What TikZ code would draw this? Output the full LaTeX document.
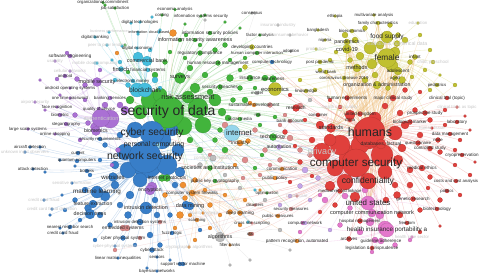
\documentclass[tikz,border=0pt]{standalone}
\usepackage{fontspec}
\setmainfont{Liberation Sans}
\usepackage{xcolor}
\definecolor{vred}{RGB}{224,64,60}
\definecolor{vgreen}{RGB}{66,180,60}
\definecolor{vblue}{RGB}{56,126,200}
\definecolor{vyellow}{RGB}{192,192,48}
\definecolor{vpurple}{RGB}{170,112,212}
\definecolor{vcyan}{RGB}{70,190,222}
\definecolor{vlcyan}{RGB}{150,214,236}
\definecolor{vorange}{RGB}{240,144,48}
\definecolor{vpink}{RGB}{228,120,204}
\definecolor{vsalmon}{RGB}{222,140,140}
\definecolor{vlav}{RGB}{196,164,232}
\definecolor{vgray}{RGB}{188,188,188}
\definecolor{vamber}{RGB}{236,170,80}
\definecolor{vbrown}{RGB}{176,112,88}
\pgfdeclarelayer{links}
\pgfdeclarelayer{dots}
\pgfsetlayers{links,dots,main}
\newcommand\lstgreen{150/100/9,198/108/10,203/125/8,183/126/9,140/112/7,160/95/7,215/100/6,170/127/7,195/88/5,130/100/4,222/112/4,155/75/3,165/62/2.5,190/68/3,205/75/3,230/78/3.5,265/78/3,240/88/2.5,215/50/2.5,230/60/2,245/58/2,205/15/1.5,185/24/1.5,225/22/1.5,240/28/1.5,200/45/2,225/45/2.5,180/40/2,170/52/2,245/100/3,228/118/3,262/155/2,255/168/2,215/140/2.5,225/150/3,200/150/3,275/117/2,128/72/2,260/125/2,125/45/1.5,105/5/1.5,186/35/2,162/178/3.5,210/92/3,233/100/2.5,185/58/2,150/62/1.5,240/70/2,255/88/2,220/130/2.5,190/140/3}
\newcommand\lstblue{147/162/16,167/165/10,128/170/8,162/140/9,125/152/8,178/150/6,140/180/7,115/185/4,105/196/5,88/208/3.5,85/190/3,120/205/3,128/215/3.5,140/222/3,150/235/3,160/245/2.5,135/245/2,100/215/3,110/225/2.5,75/200/2.5,65/210/2,80/220/2,60/228/1.5,50/215/1.5,95/240/2,180/264/2,170/260/1.5,147/268/1.5,100/160/2,90/175/2,75/166/1.5,60/160/1.5,45/172/1.5,120/135/3,105/145/2.5,186/205/4,200/230/2,170/215/2.5,157/215/3,135/130/8,175/185/3,130/195/4,115/165/4,40/147/1.5,62/195/1.5,155/200/3,172/130/6,180/172/5}
\newcommand\lstred{368/134/15,352/158/13,340/145/10,382/155/11,395/133/7,335/168/8,345/182/8,385/172/7,330/140/6,350/115/5,398/160/5,330/186/5,402/148/4,355/197/5,320/125/4,312/140/3,415/110/2.5,430/120/2.5,445/125/2,460/140/2,420/135/3,440/152/2.5,455/165/2,470/175/2,430/177/2.5,410/185/3,440/200/2.5,460/195/2,420/210/2.5,400/215/3,397/195/3.5,386/200/3,335/205/2.5,320/212/2,405/90/2.5,420/92/2,385/106/3,400/113/3,330/100/2,290/95/2,305/120/2,285/132/2.5,295/146/2,300/162/2.5,312/176/2,290/182/2,445/110/2,465/116/1.5,470/130/1.5,455/150/2,475/162/1.5,440/226/1.5,420/232/2,375/118/6,360/145/9,405/125/4,410/170/3,428/188/2,395/185/3}
\newcommand\lstyellow{370/48/6,395/52/5,392/66/6,372/64/5,360/56/4,355/40/3,345/35/3,365/28/2.5,390/25/2.5,405/40/3,410/62/2.5,402/80/3.5,412/77/2,425/70/2,430/50/2,420/35/2,330/60/2,336/52/2,320/70/2,365/80/3,375/75/3,388/88/2.5,430/90/2,455/85/2,440/75/1.5,245/67/2.5,300/80/2,315/90/2,380/45/4,398/35/2.5,350/60/2.5}
\newcommand\lstpink{380/215/4,385/228/7,375/240/3,395/245/2.5,360/232/3,340/225/2.5,325/200/3,345/196/3,365/190/3,350/208/2.5,410/240/2,372/252/2,320/195/2,303/223/2,300/232/2,370/222/4}
\newcommand\lstpurple{110/119/9,95/127/4.5,77/79/2.5,57/79/2,67/53/2,120/105/3,85/100/2,75/115/2.5,88/123/2.5,60/95/1.5,45/110/1.5,80/140/2,118/150/2.5,112/165/2,152/187/5,100/70/2,85/85/2.5,40/80/1.5,125/110/4,105/105/3}
\newcommand\lstcyan{137/90/7,138/57/5,152/17/1.5,131/23/1.5,138/34/1.5,122/46/1.5,97/63/1.5,115/80/2,128/85/2.5,150/50/2,112/60/1.5,160/30/1.5,255/190/1.5,248/222/1.5,120/62/2,155/80/3,160/88/2}
\newcommand\lstorange{173/33/3.5,117/53/2,183/185/3,195/180/2.5,205/190/2,185/198/2.5,180/215/3.5,210/205/2.5,220/215/2,230/212/2.5,245/200/2,175/228/2,195/240/2,250/103/2,248/141/2.5,235/165/2,260/190/1.5,165/195/2.5,190/215/2,225/195/2,240/225/2,210/228/2}
\newcommand\lstsalmon{225/125/3,245/160/3,265/150/2.5,280/160/2.5,270/105/2.5,290/138/3,300/150/2.5,255/130/2.5,280/125/2,310/155/2.5,127/228/3,140/238/2,115/250/2,210/155/2,243/178/2,260/175/2,300/106/3,252/234/2,230/140/2,270/165/2,285/115/2,160/222/2}
\newcommand\lstlav{305/170/3,300/186/2.5,290/196/2,318/178/2.5,280/205/2,330/230/2,310/200/2}
\newcommand\lstgray{213/158/3,200/165/2.5,225/175/2,240/188/2,265/200/2,230/265/1.5,250/260/1.5,255/13/1.5,205/20/1.5,310/100/2,280/230/2,290/250/1.5}

\begin{document}
\begin{tikzpicture}[x=1pt,y=-1pt,
      lb/.style={font=\fontsize{#1}{#1}\selectfont,text=black!85,inner sep=0pt},
      fd/.style={font=\fontsize{#1}{#1}\selectfont,text=black!22,inner sep=0pt},
      bub/.style={fill=#1,draw=#1!75!black,line width=0.15pt},
      lnk/.style={draw=#1,line width=0.3pt,draw opacity=0.3}
    ]
      \useasboundingbox (0,0) rectangle (480,274);
      \node[lb=14] (sod) at (168,112) {security of data};
      \node[lb=7.4] (risk) at (188,97) {risk assessment};
      \node[lb=5.8] (surv) at (180,78) {surveys};
      \node[lb=5.4] (isaw) at (195,40) {information security awareness};
      \node[lb=4.6] (regc) at (200,53) {regulatory compliance};
      \node[lb=4.6] (hrm) at (218,63) {human resource management};
      \node[lb=4.6] (isp) at (210,33) {information security policies};
      \node[lb=4.3] (iss) at (201,16) {information systems security};
      \node[lb=4.3] (cost) at (162,15) {costing};
      \node[lb=4.3] (econa) at (175,9.5) {economic analysis};
      \node[lb=4.3] (orgc) at (103,2.5) {organizational commitment};
      \node[lb=4.3] (jobs) at (115,8) {job satisfaction};
      \node[lb=4.3] (cons) at (252,13) {consensus};
      \node[lb=4.6] (secb) at (220,87) {security breaches};
      \node[lb=4.8] (ins) at (250,78) {insurance};
      \node[lb=4.8] (awa) at (273,79) {awareness};
      \node[lb=4.3] (model) at (257,93) {model};
      \node[lb=4.6] (sdev) at (254,105) {sustainable development};
      \node[lb=4.3] (rsk) at (258,115) {risk};
      \node[lb=4.3] (smed) at (240,119) {social media};
      \node[lb=5.2] (tech) at (273,137) {technology};
      \node[lb=4.2] (hci) at (257,53) {human computer interaction};
      \node[lb=4.3] (fact) at (260,35) {factor analysis};
      \node[lb=5] (intp) at (167,178) {internet protocols};
      \node[lb=5.3] (soc) at (210,168) {societies and institutions};
      \node[lb=4.6] (pkc) at (215,181) {public key cryptography};
      \node[lb=6.7] (blk) at (145,90) {blockchain};
      \node[lb=5.3] (cbank) at (147,61) {commercial bank};
      \node[lb=5.6] (fint) at (121,69) {fintech};
      \node[lb=4.6] (fsys) at (148,70) {financial systems};
      \node[lb=4.3] (emon) at (133,81) {electronic money};
      \node[lb=4.3] (dtech) at (140,22) {digital technologies};
      \node[lb=4.3] (dbank) at (95,37) {digital banking};
      \node[lb=4.3] (decon) at (137,48) {digital economy};
      \node[lb=3.8] (cloud) at (159,32) {cloud based};
      \node[lb=3.8] (info) at (138,32) {information};
      \node[fd=3.8] (bperf) at (109,32) {business performance};
      \node[fd=4.3] (p2p) at (107,45) {peer to peer lending};
      \node[lb=7.7] (inet) at (239,133) {internet};
      \node[fd=4.3] (mcc) at (95,63) {mobile cloud computing};
      \node[lb=5.5] (mobs) at (97,82) {mobile security};
      \node[lb=4.6] (soft) at (70,56) {software engineering};
      \node[fd=4.3] (usab) at (55,61) {usability};
      \node[fd=4.3] (cell) at (70,71) {cellular networks};
      \node[lb=4.3] (andr) at (65,76) {android};
      \node[lb=4.3] (aos) at (70,88) {android operating systems};
      \node[lb=4.3] (otp) at (70,98) {one time password};
      \node[lb=4.3] (bsrv) at (110,98) {banking services};
      \node[fd=4.3] (airp) at (35,102) {airport security};
      \node[lb=4.3] (face) at (57,107) {face recognition};
      \node[lb=4.3] (biom1) at (60,115) {biometric};
      \node[lb=4.3] (qos) at (99,109) {quality of service};
      \node[fd=5.6] (auth) at (101,118) {authentication};
      \node[lb=4.3] (steg) at (66,124) {steganography};
      \node[lb=4.3] (lss) at (28,129) {large scale systems};
      \node[lb=4.3] (shop) at (55,134) {online shopping};
      \node[lb=5.2] (biom) at (96,131) {biometrics};
      \node[lb=5] (enc) at (150,190) {encryption};
      \node[lb=10.2] (cyber) at (152,133) {cyber security};
      \node[lb=10.5] (netsec) at (145,157) {network security};
      \node[lb=6.9] (pcomp) at (154,145) {personal computing};
      \node[lb=6] (web) at (113,177) {websites};
      \node[lb=6.3] (ml) at (97,192) {machine learning};
      \node[lb=5] (feat) at (93,204) {feature extraction};
      \node[lb=5.3] (dtree) at (90,214) {decision trees};
      \node[lb=5.4] (ids) at (146,208) {intrusion detection};
      \node[lb=5.5] (dmin) at (190,206) {data mining};
      \node[lb=4.3] (secr) at (100,139) {security requirements};
      \node[lb=4.3] (curr) at (78,153) {current};
      \node[lb=4.3] (aird) at (30,147) {aircraft detection};
      \node[fd=4.3] (uio) at (25,152) {unknown input observers};
      \node[lb=4.3] (qcomp) at (77,161) {quantum computers};
      \node[lb=4.3] (atk) at (33,169) {attack detection};
      \node[lb=4.3] (botn) at (87,171) {botnets};
      \node[fd=4.3] (sinf) at (72,183) {sensitive information};
      \node[fd=4.3] (ccf) at (44,200) {credit card fraud};
      \node[fd=4.3] (ccfd) at (52,209) {credit card fraud detection};
      \node[lb=4.3] (nns) at (70,227) {nearest neighbor search};
      \node[lb=4.3] (ccf2) at (63,233) {credit card fraud};
      \node[lb=4.3] (idss) at (140,222) {intrusion detection systems};
      \node[lb=4.8] (emb) at (123,228) {embedded systems};
      \node[lb=4.5] (cps) at (123,238) {cyber physical system};
      \node[fd=4.3] (cps2) at (115,246) {cyber-physical systems};
      \node[lb=4.3] (lmi) at (118,258) {linear matrix inequalities};
      \node[lb=4.3] (bayn) at (157,271) {bayesian networks};
      \node[lb=4.3] (svm) at (183,264) {support vector machine};
      \node[lb=4.3] (sens) at (157,257) {sensors};
      \node[lb=4.3] (fuzz) at (172,233) {fuzzy logic};
      \node[fd=4.3] (cryal) at (189,247) {cryptographic algorithms};
      \node[lb=4.5] (cyat) at (152,250) {cyberattack};
      \node[lb=4.5] (csf) at (192,193) {computer system firewalls};
      \node[fd=4.3] (secsys) at (203,213) {security systems};
      \node[lb=4.3] (scan) at (197,220) {scanning};
      \node[lb=4.6] (deep) at (240,213) {deep learning};
      \node[lb=4.3] (xss) at (252,223) {cross site scripting};
      \node[lb=4.3] (ssx) at (250,234) {xss};
      \node[lb=5.3] (algo) at (220,237) {algorithms};
      \node[lb=4.3] (fbank) at (230,245) {filter banks};
      \node[lb=4.3] (opt) at (267,193) {optimization};
      \node[lb=4.3] (dis) at (255,205) {disasters};
      \node[lb=4.3] (secm) at (291,209) {security measures};
      \node[lb=4.3] (pubm) at (278,216) {public measures};
      \node[lb=4.3] (cnet) at (305,223) {computer network};
      \node[fd=4.3] (hcare) at (297,196) {health care};
      \node[lb=4.6] (prec) at (297,241) {pattern recognition, automated};
      \node[lb=4.6] (commun) at (282,169) {communication};
      \node[lb=4.6] (ppol) at (275,178) {public policy};
      \node[lb=5] (auto) at (279,147) {automation};
      \node[lb=5] (indu) at (240,143) {industry};
      \node[lb=5] (resr) at (296,108) {research};
      \node[lb=4.5] (bacc) at (290,121) {bank account};
      \node[fd=4.5] (cnets) at (213,158) {computer networks};
      \node[lb=4.3] (ctech) at (272,62) {computer technology};
      \node[lb=4.5] (know) at (306,91) {knowledge};
      \node[lb=4.5] (devc) at (252,47) {developing countries};
      \node[lb=4.3] (adop) at (291,51) {adoption};
      \node[fd=4.3] (insi) at (278,25) {insurance industry};
      \node[fd=4.3] (cbeh) at (290,35) {consumer behavior};
      \node[lb=5.8] (econ) at (275,89) {economics};
      \node[lb=6.5] (food) at (387,37) {food supply};
      \node[lb=8.3] (fem) at (387,58) {female};
      \node[lb=5.8] (covid) at (347,49) {covid-19};
      \node[lb=5.2] (pand) at (347,42) {pandemics};
      \node[fd=5.2] (stat) at (397,43.5) {statistics \& numerical data};
      \node[lb=5.5] (meth) at (357,68) {methods};
      \node[lb=5.2] (org) at (377,85) {organization \& administration};
      \node[lb=4.6] (adol) at (398,71) {adolescent};
      \node[lb=4.3] (aged) at (395,78) {aged};
      \node[lb=4.5] (infa) at (415,57) {infant};
      \node[fd=4.5] (child) at (433,62) {child, preschool};
      \node[lb=4.3] (ped) at (437,85) {pediatrics};
      \node[lb=4.3] (eth) at (335,16) {ethiopia};
      \node[lb=4.3] (multv) at (374,15) {multivariate analysis};
      \node[lb=4.3] (famc) at (378,23) {family characteristics};
      \node[fd=4.3] (edu) at (418,23) {education};
      \node[lb=4.3] (bngl) at (318,30) {bangladesh};
      \node[lb=4.3] (bioe) at (352,31) {bioeconomics};
      \node[lb=4.3] (nig) at (325,40) {nigeria};
      \node[lb=4.3] (ppand) at (320,62) {post pandemic};
      \node[lb=4.3] (wb) at (326,72) {world bank};
      \node[lb=4.3] (cvd) at (344,78) {coronavirus disease 2019};
      \node[fd=4.3] (prod) at (316,49) {production};
      \node[lb=12.4] (hum) at (370,132) {humans};
      \node[lb=11.7] (csec) at (356,163) {computer security};
      \node[lb=8.6] (conf) at (368,181) {confidentiality};
      \node[fd=9] (priv) at (322,152) {privacy};
      \node[lb=5.5] (std) at (331,128) {standards};
      \node[lb=5] (dbf) at (381,144) {databases, factual};
      \node[lb=4.6] (hexp) at (347,98) {human experiments};
      \node[lb=4.6] (mcs) at (393,98) {major clinical study};
      \node[lb=4.5] (ctop) at (447,98) {clinical trial (topic)};
      \node[fd=4.3] (hcq) at (340,107) {health care quality};
      \node[fd=4.3] (ctas) at (457,107) {clinical trials as topic};
      \node[lb=4.3] (consm) at (318,115) {consumer};
      \node[lb=4.6] (uk) at (360,114) {united kingdom};
      \node[lb=4.3] (china) at (350,120) {china};
      \node[lb=4.5] (pros) at (425,113) {prospective study};
      \node[lb=4.5] (bmark) at (410,122) {biological marker};
      \node[lb=4.5] (lab) at (457,122) {laboratory};
      \node[fd=4.3] (htis) at (432,128) {human tissue};
      \node[lb=4.5] (dman) at (450,134) {data management};
      \node[lb=4.3] (male) at (438,140) {male};
      \node[lb=4.3] (quest) at (418,143) {questionnaire};
      \node[lb=4.5] (ctrl) at (430,148.5) {controlled study};
      \node[lb=4.5] (cryo) at (462,155) {cryopreservation};
      \node[lb=4.6] (meth2) at (422,168) {medical ethics};
      \node[lb=4.3] (costs) at (456,181) {costs and cost analysis};
      \node[lb=4.3] (mrl) at (340,191) {medical record linkage};
      \node[lb=4.3] (pol) at (447,191) {politics};
      \node[lb=4.5] (gres) at (413,199) {genetic research};
      \node[lb=7.9] (ust) at (368,203) {united states};
      \node[lb=4.5] (btech) at (437,209) {biotechnology};
      \node[lb=5.6] (ccn) at (372,213) {computer communication network};
      \node[lb=4.3] (hman) at (360,221) {hospital management};
      \node[lb=4.3] (free) at (407,223) {freedom};
      \node[lb=6.3] (hip) at (387,230) {health insurance portability a};
      \node[lb=4.5] (arch) at (349,239) {archives};
      \node[lb=4.5] (guide) at (381,241) {guideline adherence};
      \node[fd=4.3] (hcsec) at (412,237) {health care sector};
      \node[lb=4.5] (legis) at (372,248) {legislation \& jurisprudence};

      \foreach \x/\y/\r [count=\i] in \lstgreen \coordinate (g\i) at (\x,\y);
      \foreach \x/\y/\r [count=\i] in \lstblue \coordinate (b\i) at (\x,\y);
      \foreach \x/\y/\r [count=\i] in \lstred \coordinate (r\i) at (\x,\y);
      \foreach \x/\y/\r [count=\i] in \lstyellow \coordinate (y\i) at (\x,\y);
      \foreach \x/\y/\r [count=\i] in \lstpink \coordinate (p\i) at (\x,\y);
      \foreach \x/\y/\r [count=\i] in \lstpurple \coordinate (u\i) at (\x,\y);
      \foreach \x/\y/\r [count=\i] in \lstcyan \coordinate (c\i) at (\x,\y);
      \foreach \x/\y/\r [count=\i] in \lstorange \coordinate (o\i) at (\x,\y);
      \foreach \x/\y/\r [count=\i] in \lstsalmon \coordinate (s\i) at (\x,\y);
      \foreach \x/\y/\r [count=\i] in \lstlav \coordinate (v\i) at (\x,\y);
      \foreach \x/\y/\r [count=\i] in \lstgray \coordinate (k\i) at (\x,\y);

      \begin{pgfonlayer}{dots}
        \foreach \x/\y/\r [count=\i] in \lstgreen \fill[bub=vgreen] (g\i) circle (\r);
        \foreach \x/\y/\r [count=\i] in \lstblue \fill[bub=vblue] (b\i) circle (\r);
        \foreach \x/\y/\r [count=\i] in \lstred \fill[bub=vred] (r\i) circle (\r);
        \foreach \x/\y/\r [count=\i] in \lstyellow \fill[bub=vyellow] (y\i) circle (\r);
        \foreach \x/\y/\r [count=\i] in \lstpink \fill[bub=vpink] (p\i) circle (\r);
        \foreach \x/\y/\r [count=\i] in \lstpurple \fill[bub=vpurple] (u\i) circle (\r);
        \foreach \x/\y/\r [count=\i] in \lstcyan \fill[bub=vcyan] (c\i) circle (\r);
        \foreach \x/\y/\r [count=\i] in \lstorange \fill[bub=vorange] (o\i) circle (\r);
        \foreach \x/\y/\r [count=\i] in \lstsalmon \fill[bub=vsalmon] (s\i) circle (\r);
        \foreach \x/\y/\r [count=\i] in \lstlav \fill[bub=vlav] (v\i) circle (\r);
        \foreach \x/\y/\r [count=\i] in \lstgray \fill[bub=vgray] (k\i) circle (\r);
        \foreach \n/\r in {sod/16,risk/6,surv/5.5,isaw/2,regc/2.5,hrm/2.5,isp/2,iss/1.5,cost/1.5,econa/1.5,jobs/1.5,orgc/1.5,secb/2.5,ins/3,awa/3.5,tech/3.5,intp/3.5,soc/2.5,pkc/2,smed/2,rsk/2,hci/2,fact/1.5,opt/1.5}
          \fill[bub=vgreen] (\n.center) circle (\r);
        \foreach \n/\r in {blk/7,cbank/5,fint/2.5,fsys/2,emon/2,dtech/1.5,dbank/1.5,decon/1.5,cloud/1.5,p2p/1.5,bperf/1.5,info/1.5}
          \fill[bub=vcyan] (\n.center) circle (\r);
        \foreach \n/\r in {pcomp/6,mcc/1.5}
          \fill[bub=vlcyan] (\n.center) circle (\r);
        \fill[bub=vlcyan] (inet.center) ++(-7,0) circle (8);
        \foreach \n/\r in {mobs/4.5,soft/2,usab/1.5,cell/1.5,andr/2,aos/1.5,otp/1.5,bsrv/2,airp/1.5,face/1.5,biom1/2,qos/2,auth/9,steg/2,lss/1.5,shop/1.5,biom/4.5,enc/5}
          \fill[bub=vpurple] (\n.center) circle (\r);
        \foreach \n/\r in {cyber/12,netsec/16,web/4.5,ml/6,feat/4,dtree/5,ids/6,dmin/4,secr/2,curr/2,aird/1.5,uio/1.5,qcomp/2,atk/1.5,botn/2,sinf/1.5,ccf/1.5,ccfd/1.5,nns/2,ccf2/1.5,idss/2.5,cps/2.5,cps2/1.5,lmi/1.5,bayn/1.5,svm/2,sens/1.5,fuzz/2,cyat/2.5,ctech/2}
          \fill[bub=vblue] (\n.center) circle (\r);
        \foreach \n/\r in {csf/3,scan/2,deep/2.5,pubm/2,prec/2,commun/2,ppol/2,indu/3,fbank/1.5,secsys/1.5,cryal/1.5,sdev/2}
          \fill[bub=vorange] (\n.center) circle (\r);
        \foreach \n/\r in {emb/3,secm/2,bacc/2,dis/1.5,xss/1.5,hcare/1.5}
          \fill[bub=vsalmon] (\n.center) circle (\r);
        \fill[bub=vbrown] (ssx.center) circle (2);
        \foreach \n/\r in {algo/5,cnets/3,cons/1.5,insi/1.5,cbeh/1.5,adop/1.5,model/2}
          \fill[bub=vgray] (\n.center) circle (\r);
        \foreach \n/\r in {cnet/2,auto/2.5}
          \fill[bub=vlav] (\n.center) circle (\r);
        \foreach \n/\r in {econ/6.5,food/6,fem/9.5,covid/4.5,pand/3,stat/3,meth/4,org/4,adol/4,aged/2.5,infa/2.5,child/2,ped/2,eth/1.5,multv/1.5,famc/2,edu/1.5,bngl/1.5,bioe/2,nig/1.5,ppand/2,wb/2,cvd/2,prod/1.5,know/2,devc/2.5}
          \fill[bub=vyellow] (\n.center) circle (\r);
        \foreach \n/\r in {hum/15,csec/14,conf/8,priv/9,std/4.5,dbf/5,hexp/2.5,mcs/3,ctop/2,hcq/2,ctas/1.5,consm/2,uk/2.5,china/2,pros/2.5,bmark/2.5,lab/2,htis/1.5,dman/2,male/2.5,quest/2.5,ctrl/2.5,cryo/2,meth2/3,costs/2,mrl/2.5,pol/2,gres/2.5,btech/2,hman/2.5,free/2,arch/2.5,legis/2,resr/3.5}
          \fill[bub=vred] (\n.center) circle (\r);
        \foreach \n/\r in {ust/7,ccn/4,hip/7,guide/3,hcsec/1.5}
          \fill[bub=vpink] (\n.center) circle (\r);
      \end{pgfonlayer}

      \begin{pgfonlayer}{links}
        \fill[white] (0,0) rectangle (480,274);
        \foreach \x/\y/\r [count=\i] in \lstgreen \draw[lnk=vgreen] (sod.center) to[bend left=10] (g\i);
        \foreach \x/\y/\r [count=\i] in \lstblue \draw[lnk=vblue] (netsec.center) to[bend left=10] (b\i);
        \foreach \x/\y/\r [count=\i] in \lstred \draw[lnk=vred] (hum.center) to[bend left=10] (r\i);
        \foreach \x/\y/\r [count=\i] in \lstyellow {
          \draw[lnk=vyellow] (fem.center) to[bend left=10] (y\i);
          \draw[lnk=vamber] (y\i) to[bend left=10] (hum.center);
        }
        \foreach \x/\y/\r [count=\i] in \lstpink \draw[lnk=vpink] (csec.center) to[bend left=10] (p\i);
        \foreach \x/\y/\r [count=\i] in \lstpurple \draw[lnk=vpurple] (auth.center) to[bend left=10] (u\i);
        \foreach \x/\y/\r [count=\i] in \lstcyan \draw[lnk=vcyan] (blk.center) to[bend left=10] (c\i);
        \foreach \x/\y/\r [count=\i] in \lstorange \draw[lnk=vorange] (csf.center) to[bend left=10] (o\i);
        \foreach \x/\y/\r [count=\i] in \lstsalmon \draw[lnk=vsalmon] (csec.center) to[bend left=10] (s\i);
        \foreach \x/\y/\r [count=\i] in \lstlav \draw[lnk=vlav] (csec.center) to[bend left=10] (v\i);
        \foreach \x/\y/\r [count=\i] in \lstgray \draw[lnk=vgray] (algo.center) to[bend left=10] (k\i);
        \foreach \t in {risk,surv,isaw,regc,hrm,isp,iss,cost,econa,jobs,orgc,secb,ins,awa,tech,intp,soc,pkc,smed,rsk,hci,fact,model,sdev,inet,econ,hum,csec,conf,priv,std,resr,bacc,auto,indu,commun,ppol,dmin,csf,deep,fem,food,ctech,cyber,netsec,blk,mobs,auth,ust,hip,ccn,dbf,uk,hexp,opt,secm,dis,know,devc,adop,cons}
          \draw[lnk=vgreen] (sod.center) to[bend left=10] (\t.center);
        \foreach \t in {web,ml,feat,dtree,ids,dmin,secr,curr,aird,uio,qcomp,atk,botn,sinf,ccf,ccfd,nns,ccf2,idss,emb,cps,cps2,lmi,bayn,svm,sens,fuzz,cyat,cryal,enc,intp,lss,csec,hum,algo,scan,csf,priv,conf,fbank,secsys,xss,deep,ust,shop,steg}
          \draw[lnk=vblue] (netsec.center) to[bend left=10] (\t.center);
        \foreach \t in {sod,blk,auth,biom,mobs,face,steg,shop,csec,inet,hum,priv,secr,qos,biom1,pcomp,risk,ml,ids,web,enc,cbank,surv}
          \draw[lnk=vblue] (cyber.center) to[bend left=10] (\t.center);
        \foreach \t in {std,dbf,hexp,mcs,ctop,hcq,ctas,consm,uk,china,pros,bmark,lab,htis,dman,male,quest,ctrl,cryo,meth2,costs,mrl,pol,gres,ust,btech,ccn,hman,free,hip,guide,legis,arch,resr,tech,bacc,inet,commun,ppol,auto,know,econ,ctech,hci}
          \draw[lnk=vred] (hum.center) to[bend left=10] (\t.center);
        \foreach \t in {priv,conf,ust,ccn,hip,cnet,arch,secm,prec,pubm,algo,deep,netsec,cyber,mrl,hman,guide,legis,free,gres,btech,pol,costs,meth2,opt,dis,hcare,commun,ppol,intp,enc,ids}
          \draw[lnk=vred] (csec.center) to[bend left=10] (\t.center);
        \foreach \a in {fem,food,covid,meth,org,adol,aged,pand,infa,stat,famc,wb,cvd}
          \foreach \b in {hum,csec,conf,dbf,std,uk,hexp,mcs,ust,priv}
            \draw[lnk=vamber] (\a.center) to[bend left=10] (\b.center);
        \foreach \t in {food,covid,pand,stat,meth,org,adol,aged,infa,child,ped,eth,multv,famc,edu,bngl,bioe,nig,ppand,wb,cvd,prod,econ,know,devc,surv,ctop,pros}
          \draw[lnk=vyellow] (fem.center) to[bend left=10] (\t.center);
        \foreach \t in {soft,usab,cell,andr,aos,otp,bsrv,blk,cbank,auth,biom,qos,face,mcc,fint,emon}
          \draw[lnk=vpurple] (mobs.center) to[bend left=10] (\t.center);
        \foreach \t in {biom,biom1,face,steg,shop,lss,airp,qos,otp,bsrv,secr,curr,enc,cyber,netsec}
          \draw[lnk=vpurple] (auth.center) to[bend left=10] (\t.center);
        \foreach \t in {cbank,fint,fsys,emon,dtech,dbank,decon,cloud,p2p,bperf,info,mcc,sod,inet,risk,surv}
          \draw[lnk=vcyan] (blk.center) to[bend left=10] (\t.center);
        \foreach \t in {scan,deep,pubm,prec,commun,ppol,indu,fbank,secsys,cryal,dmin,algo,ids,netsec,csec,opt,dis,xss}
          \draw[lnk=vorange] (csf.center) to[bend left=10] (\t.center);
        \foreach \t in {hum,csec,conf,ccn,hman,guide,legis,arch,free,mrl,cnet,prec}
          \draw[lnk=vpink] (hip.center) to[bend left=10] (\t.center);
        \foreach \t in {hum,csec,conf,ccn,gres,btech,pol,mrl,hman}
          \draw[lnk=vpink] (ust.center) to[bend left=10] (\t.center);
      \end{pgfonlayer}
    \end{tikzpicture}
\end{document}
